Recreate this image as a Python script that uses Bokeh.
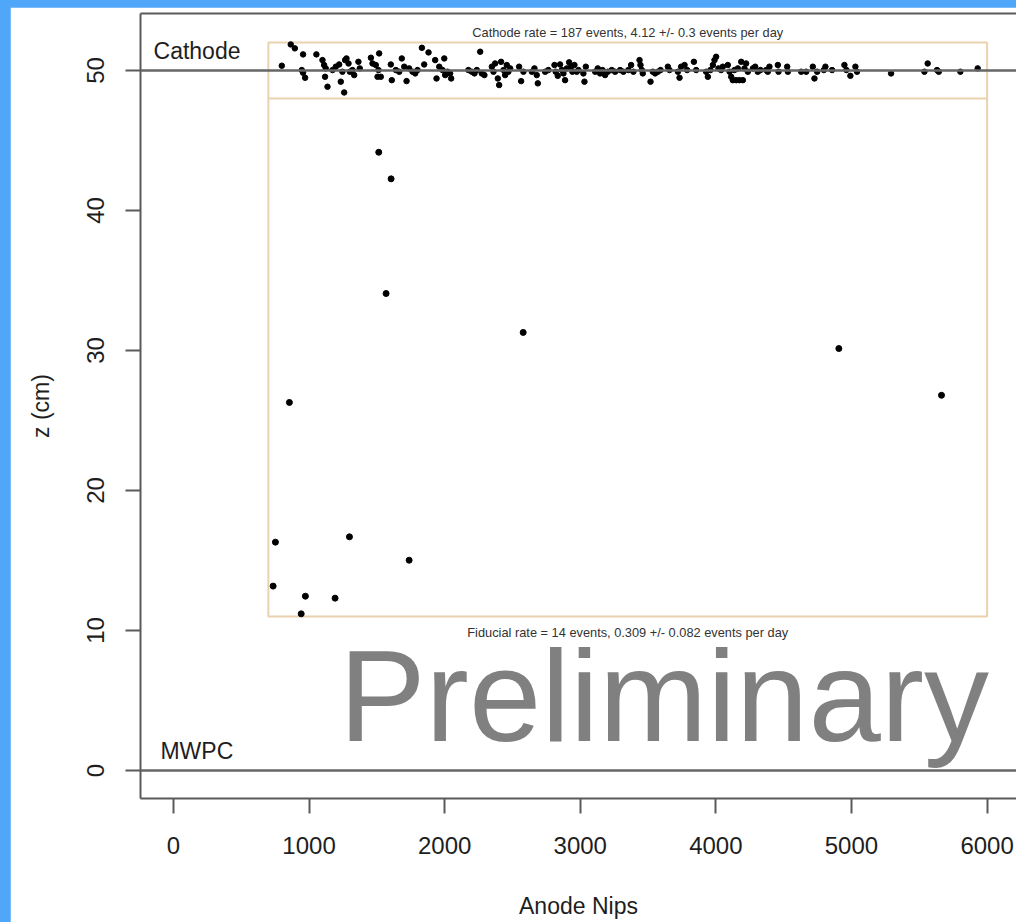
from bokeh.plotting import figure
from bokeh.models import Span, LinearAxis, Range1d, FixedTicker
from bokeh.core.properties import value
from bokeh.embed import file_html
from bokeh.resources import INLINE

# ---------------- data ----------------
x_ticks = [0, 1000, 2000, 3000, 4000, 5000, 6000]
y_ticks = [0, 10, 20, 30, 40, 50]

cathode_z_level = 50
mwpc_z_level = 0

region_x = [700, 6000]          # x extent of selection boxes
cathode_band = [48, 52]         # z band for cathode events
fiducial_band = [11, 48]        # z band for fiducial events

cathode_x = [
    865, 895, 956, 799, 946, 956, 971, 1054, 1099, 1111, 1123, 1118, 1136, 1173, 1197,
    1222, 1234, 1259, 1246, 1266, 1276, 1291, 1301, 1320, 1333, 1364, 1374, 1456, 1468,
    1492, 1517, 1512, 1505, 1529, 1603, 1610, 1640, 1665, 1684, 1702, 1719, 1738, 1763,
    1783, 1800, 1832, 1881, 1849, 1930, 1940, 1960, 1984, 1997, 2004, 2021,
    2040, 2048, 2175, 2200, 2220, 2237, 2262, 2274, 2293, 2348, 2360, 2372, 2392, 2402,
    2416, 2434, 2446, 2458, 2470, 2483, 2549, 2564, 2581, 2643, 2662, 2679, 2687, 2741,
    2765, 2810, 2819, 2834, 2851, 2864, 2876, 2888, 2901, 2918, 2933, 2942, 2957, 2974,
    2987, 3023, 3031, 3041, 3110, 3129, 3146, 3164, 3183, 3203, 3232, 3257, 3294, 3318,
    3355, 3375, 3392,
    3437, 3444, 3454, 3461, 3518, 3535, 3552, 3572, 3592, 3646, 3658, 3720, 3732, 3744,
    3769, 3788, 3838, 3855, 3928, 3941, 3960, 3978, 3990, 4002, 4019, 4039, 4051, 4088,
    4101, 4113, 4125, 4137, 4150, 4162, 4174, 4187, 4199, 4211, 4223, 4236, 4273, 4290,
    4309, 4329, 4371, 4383, 4395, 4457, 4462, 4526, 4531, 4629, 4666, 4715, 4727, 4747,
    4796, 4808, 4857, 4948, 4963, 4992, 5029, 5041, 5292, 5538, 5562, 5631, 5644, 5803,
    5931,
]
cathode_z = [
    51.86, 51.58, 51.15, 50.34, 50.03, 49.84, 49.48, 51.15, 50.74, 50.39, 50.15, 49.55,
    48.84, 50.03, 50.27, 50.43, 49.20, 48.43, 49.91, 50.74, 50.86, 50.50, 49.91, 50.03,
    49.67, 50.62, 50.15, 50.91, 50.50, 50.39, 51.22, 50.03, 49.55, 49.55, 50.43, 49.31,
    50.03, 49.91, 50.86, 50.27, 49.24, 50.15, 49.91, 49.79, 50.03, 51.62, 51.29, 50.43,
    50.74, 49.43, 50.27, 50.03, 50.86, 49.67, 49.91,
    49.79, 49.43, 50.03, 49.91, 49.79, 50.03, 51.34, 49.79, 49.67, 50.27, 49.91, 50.50,
    49.43, 48.96, 50.62, 50.03, 49.67, 50.39, 49.91, 50.15, 50.27, 49.24, 49.91, 49.91,
    50.15, 49.67, 49.08, 49.91, 50.03, 50.39, 49.91, 49.62, 50.43, 50.03, 49.79, 49.31,
    50.15, 50.58, 50.27, 49.91, 50.39, 49.91, 50.03, 49.79, 49.20, 50.27, 49.91, 50.15,
    49.79, 50.03, 49.67, 49.91, 50.03, 49.91, 50.03, 49.91, 50.03, 50.39, 49.91,
    50.74, 50.39, 50.03, 49.79, 49.20, 49.91, 49.79, 49.91, 50.03, 50.27, 50.03, 49.91,
    49.48, 50.27, 50.39, 50.03, 50.62, 50.03, 49.91, 49.55, 50.03, 50.39, 50.74, 50.98,
    50.15, 50.03, 50.27, 50.39, 49.91, 49.55, 49.31, 50.03, 49.31, 50.15, 49.31, 50.62,
    49.31, 50.15, 50.50, 49.91, 50.15, 50.27, 49.91, 50.03, 50.03, 49.91, 50.27, 50.39,
    49.91, 50.27, 49.91, 49.91, 49.91, 50.27, 49.43, 49.91,
    50.03, 50.27, 50.03, 50.39, 50.03, 49.62, 50.27, 49.91, 49.79, 49.91, 50.50, 50.03,
    49.91, 49.91, 50.15,
]

fiducial_x = [1514, 1605, 1568, 2579, 855, 752, 1298, 1738, 735, 973, 1192, 942, 4907, 5664]
fiducial_z = [44.16, 42.26, 34.07, 31.29, 26.29, 16.31, 16.69, 15.02, 13.17, 12.45, 12.31,
              11.19, 30.14, 26.80]

cathode_note = "Cathode rate = 187 events, 4.12 +/- 0.3 events per day"
fiducial_note = "Fiducial rate = 14 events, 0.309 +/- 0.082 events per day"

# ---------------- styling ----------------
FONT = "Liberation Sans"
AX = "#5a5a5a"
TXT = "#1e1e1e"
TAN = "#ebd2ae"
BLUE = "#50a6f8"

p = figure(
    width=1006, height=915, margin=(7, 0, 0, 10),
    output_backend="svg", toolbar_location=None,
    x_range=Range1d(-243, 6217), y_range=Range1d(-2.0, 54.07),
    min_border_left=130, min_border_right=0, min_border_top=6, min_border_bottom=124,
    x_axis_label="Anode Nips", y_axis_label="z (cm)",
)
p.grid.visible = False
p.outline_line_color = None
p.background_fill_color = "white"
p.border_fill_color = "white"

for ax in (p.xaxis[0], p.yaxis[0]):
    ax.axis_line_color = AX
    ax.axis_line_width = 2
    ax.major_tick_line_color = AX
    ax.major_tick_line_width = 2
    ax.major_tick_out = 15
    ax.major_tick_in = 0
    ax.minor_tick_line_color = None
    ax.major_label_text_font = FONT
    ax.major_label_text_font_size = "24px"
    ax.major_label_text_color = TXT
    ax.axis_label_text_font = FONT
    ax.axis_label_text_font_size = "23px"
    ax.axis_label_text_font_style = "normal"
    ax.axis_label_text_color = TXT

p.xaxis[0].ticker = FixedTicker(ticks=x_ticks)
p.yaxis[0].ticker = FixedTicker(ticks=y_ticks)
p.xaxis[0].major_label_standoff = 23
p.xaxis[0].axis_label_standoff = 36
p.yaxis[0].major_label_orientation = "vertical"
p.yaxis[0].major_label_standoff = 21
p.yaxis[0].axis_label_standoff = 31

top_axis = LinearAxis(ticker=FixedTicker(ticks=[]), axis_line_color=AX, axis_line_width=2,
                      major_tick_line_color=None, minor_tick_line_color=None,
                      major_label_text_font_size="0px", major_label_standoff=0)
p.add_layout(top_axis, "above")

# horizontal reference lines
p.add_layout(Span(location=cathode_z_level, dimension="width", line_color="#666666", line_width=2.5))
p.add_layout(Span(location=mwpc_z_level, dimension="width", line_color="#666666", line_width=2.5))

# selection regions
p.quad(left=[region_x[0]], right=[region_x[1]], bottom=[fiducial_band[0]], top=[cathode_band[1]],
       fill_color=None, line_color=TAN, line_width=2)
p.segment(x0=[region_x[0]], y0=[cathode_band[0]], x1=[region_x[1]], y1=[cathode_band[0]],
          line_color=TAN, line_width=2)

# events
p.scatter(cathode_x, cathode_z, size=5.5, color="black")
p.scatter(fiducial_x, fiducial_z, size=6, color="black")

# annotations
mid_x = (region_x[0] + region_x[1]) / 2
p.text(x=[mid_x], y=[52.74], text=[cathode_note], text_font=value(FONT), text_font_size="12.8px",
       text_color="#333333", text_align="center", text_baseline="middle")
p.text(x=[mid_x], y=[9.86], text=[fiducial_note], text_font=value(FONT), text_font_size="12.8px",
       text_color="#333333", text_align="center", text_baseline="middle")
p.text(x=[-147], y=[51.36], text=["Cathode"], text_font=value(FONT), text_font_size="23px",
       text_color=TXT, text_align="left", text_baseline="alphabetic")
p.text(x=[-96], y=[1.36], text=["MWPC"], text_font=value(FONT), text_font_size="23px",
       text_color=TXT, text_align="left", text_baseline="alphabetic")
p.text(x=[1220], y=[5.34], text=["Preliminary"], text_font=value(FONT), text_font_size="130px",
       text_color="#808080", text_align="left", text_baseline="alphabetic")

html = file_html(p, INLINE)
html = html.replace("</head>", "<style>html, body { background: %s; }</style></head>" % BLUE, 1)
open("out.html", "w").write(html)
